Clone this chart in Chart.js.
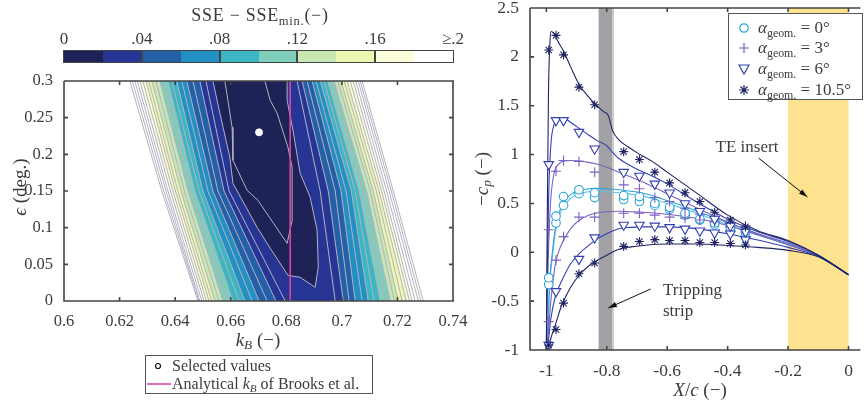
<!DOCTYPE html>
<html>
<head>
<meta charset="utf-8">
<script src="https://cdn.jsdelivr.net/npm/chart.js@4.4.1/dist/chart.umd.min.js"></script>
<style>
body{margin:0;background:#fff;width:865px;height:403px;overflow:hidden;position:relative;font-family:"Liberation Serif",serif;color:#3c3c3c}
canvas{position:absolute}
.t{position:absolute;white-space:nowrap;line-height:1}
.c{transform:translate(-50%,-50%)}
.r{transform:translate(-50%,-50%) rotate(-90deg)}
sub{font-size:70%;vertical-align:-0.3em;line-height:0}
#cbar{position:absolute;left:63px;top:50px;width:389px;height:11px;border:1.5px solid #444;display:flex}
#cbar div{flex:1}
.box{position:absolute;border:1.5px solid #555;background:#fff}
.row{position:absolute;left:0;right:0;height:20px;display:flex;align-items:center}
</style>
</head>
<body>
<canvas id="left" width="470" height="340" style="left:0;top:0"></canvas>
<canvas id="right" width="396" height="385" style="left:470px;top:0"></canvas>

<div class="t c" style="left:260px;top:15px;font-size:18px;letter-spacing:0.7px">SSE − SSE<sub>min.</sub>(−)</div>
<div id="cbar"></div>
<div class="t r" style="left:19px;top:187px;font-size:19px"><i>ϵ</i>&nbsp;(deg.)</div>
<div class="t c" style="left:258px;top:339px;font-size:19px"><i>k</i><sub><i>B</i></sub>&nbsp;(−)</div>

<div class="box" style="left:145px;top:355px;width:226px;height:37px;font-size:16px">
  <div class="row" style="top:0px"><svg width="26" height="12"><circle cx="12" cy="6" r="2.5" fill="#fff" stroke="#111" stroke-width="1.2"/></svg><span>Selected values</span></div>
  <div class="row" style="top:18px"><svg width="26" height="12"><line x1="1" y1="6" x2="25" y2="6" stroke="#d9479f" stroke-width="1.6"/></svg><span>Analytical <i>k</i><sub><i>B</i></sub> of Brooks et al.</span></div>
</div>

<div class="t r" style="left:481px;top:179px;font-size:19px">−<i>c</i><sub><i>p</i></sub>&nbsp;(−)</div>
<div class="t c" style="left:700px;top:389px;font-size:19px"><i>X</i>/<i>c</i>&nbsp;(−)</div>
<div class="t c" style="left:747px;top:146px;font-size:17px">TE insert</div>
<div class="t" style="left:663px;top:279px;font-size:17px;line-height:21px">Tripping<br>strip</div>

<div class="box" style="left:728px;top:13px;width:133px;height:85px;font-size:17px">
  <div class="row" style="top:4px"><svg width="29" height="14"><circle cx="15" cy="7" r="4.2" fill="#fff" stroke="#2aa4d8" stroke-width="1.2"/></svg><span><i>α</i><sub>geom.</sub> = 0°</span></div>
  <div class="row" style="top:24px"><svg width="29" height="14"><path d="M15 2V12M10 7H20" stroke="#7a60c0" stroke-width="1.2"/></svg><span><i>α</i><sub>geom.</sub> = 3°</span></div>
  <div class="row" style="top:45px"><svg width="29" height="14"><path d="M10 3H20L15 12Z" fill="#fff" stroke="#3340b2" stroke-width="1.2"/></svg><span><i>α</i><sub>geom.</sub> = 6°</span></div>
  <div class="row" style="top:66px"><svg width="29" height="14"><path d="M15 2V12M10 7H20M11.5 3.5L18.5 10.5M18.5 3.5L11.5 10.5" stroke="#1e2461" stroke-width="1.2"/></svg><span><i>α</i><sub>geom.</sub> = 10.5°</span></div>
</div>

<script>
// ---------- left panel: SSE map ----------
const bandColors = ['#1e2257', '#263594', '#2360a8', '#2390c3', '#3db6c4',
                    '#7fcdbb', '#c7e6b4', '#edf6b1', '#fbfcd9', '#ffffff'];
const cbarTicks = [0, 0.04, 0.08, 0.12, 0.16, 0.2];
const cbarLabels = ['0', '.04', '.08', '.12', '.16', '\u2265.2'];

const kbTicks = [0.6, 0.62, 0.64, 0.66, 0.68, 0.7, 0.72, 0.74];
const kbLabels = ['0.6', '0.62', '0.64', '0.66', '0.68', '0.7', '0.72', '0.74'];
const epsTicks = [0, 0.05, 0.1, 0.15, 0.2, 0.25, 0.3];
const epsLabels = ['0', '0.05', '0.1', '0.15', '0.2', '0.25', '0.3'];

// contour levels, each flank read at eps = 0.3, 0.15 and 0
const levels   = [0.03, 0.04, 0.05, 0.06, 0.07, 0.08, 0.09, 0.10, 0.11, 0.12,
                  0.13, 0.14, 0.15, 0.16, 0.17, 0.18, 0.19, 0.20, 0.21, 0.22];
const leftTop  = [0.6511, 0.6489, 0.6464, 0.6442, 0.6424, 0.6406, 0.6388, 0.6374, 0.6360, 0.6345,
                  0.6331, 0.6316, 0.6305, 0.6295, 0.6284, 0.6273, 0.6264, 0.6255, 0.6246, 0.6237];
const leftMid  = [0.6594, 0.6576, 0.6554, 0.6536, 0.6518, 0.6500, 0.6486, 0.6471, 0.6457, 0.6446,
                  0.6433, 0.6421, 0.6410, 0.6401, 0.6392, 0.6383, 0.6374, 0.6367, 0.6359, 0.6352];
const leftBot  = [0.6796, 0.6763, 0.6731, 0.6702, 0.6677, 0.6651, 0.6630, 0.6608, 0.6590, 0.6572,
                  0.6558, 0.6543, 0.6532, 0.6522, 0.6513, 0.6504, 0.6496, 0.6489, 0.6486, 0.6482];
const rightTop = [0.6839, 0.6857, 0.6875, 0.6893, 0.6907, 0.6922, 0.6936, 0.6949, 0.6961, 0.6972,
                  0.6985, 0.6997, 0.7008, 0.7019, 0.7030, 0.7041, 0.7050, 0.7059, 0.7066, 0.7073];
const rightMid = [0.6922, 0.6951, 0.6976, 0.6997, 0.7015, 0.7034, 0.7048, 0.7062, 0.7077, 0.7089,
                  0.7102, 0.7113, 0.7124, 0.7134, 0.7143, 0.7152, 0.7161, 0.7170, 0.7178, 0.7185];
const rightBot = [0.6976, 0.7005, 0.7026, 0.7048, 0.7073, 0.7095, 0.7116, 0.7138, 0.7156, 0.7174,
                  0.7189, 0.7203, 0.7217, 0.7232, 0.7243, 0.7253, 0.7264, 0.7275, 0.7284, 0.7293];

// the two innermost contours traced point by point
const lvl02K = [0.6536, 0.6561, 0.6597, 0.6608, 0.6695, 0.6731, 0.6806, 0.6850, 0.6904,
                0.6915, 0.6911, 0.6886, 0.6850, 0.6824, 0.6803, 0.6803];
const lvl02E = [0.300, 0.256, 0.196, 0.1605, 0.1005, 0.0786, 0.035, 0.0323, 0.0187,
                0.046, 0.0964, 0.1414, 0.1741, 0.2328, 0.2737, 0.300];
const lvl01K = [0.6579, 0.6605, 0.6608, 0.6659, 0.6698, 0.6803, 0.6821, 0.6821, 0.6806, 0.6767, 0.6742, 0.6723];
const lvl01E = [0.300, 0.2369, 0.1919, 0.151, 0.1373, 0.0786, 0.110, 0.1823, 0.2096, 0.256, 0.2737, 0.300];

const selected = [0.6702, 0.230];
const brooksKB = 0.6814;

// colour bar
const cbar = document.getElementById('cbar');
bandColors.forEach(c => {
    const d = document.createElement('div');
    d.style.background = c;
    cbar.appendChild(d);
});
cbarTicks.forEach((v, i) => {
    const px = 64 + v / 0.2 * 389;
    if (i > 0 && i < cbarTicks.length - 1) {
        const s = document.createElement('div');
        s.style.cssText = 'position:absolute;top:51px;height:12px;width:2px;background:#444;left:' + (px - 1) + 'px';
        document.body.appendChild(s);
    }
    const l = document.createElement('div');
    l.className = 't c';
    l.style.cssText = 'font-size:17px;top:38px;left:' + px + 'px';
    l.textContent = cbarLabels[i];
    document.body.appendChild(l);
});

function bandColor(lv) {
    return bandColors[Math.min(9, Math.floor((Math.round(lv * 100) - 1) / 2))];
}

const lineStyle = {showLine: true, fill: false, borderColor: '#b2b2c0', borderWidth: 1, pointRadius: 0};

const leftSets = [
    {data: [{x: selected[0], y: selected[1]}], pointRadius: 3.5, pointBackgroundColor: '#fff',
     pointBorderColor: '#fff', showLine: false},
    {data: [{x: brooksKB, y: 0}, {x: brooksKB, y: 0.3}], showLine: true, borderColor: '#d9479f',
     borderWidth: 1.6, pointRadius: 0, fill: false},
    Object.assign({data: lvl01K.map((k, i) => ({x: k, y: lvl01E[i]}))}, lineStyle),
    Object.assign({data: lvl02K.map((k, i) => ({x: k, y: lvl02E[i]}))}, lineStyle)
];
levels.forEach((lv, i) => {
    leftSets.push(Object.assign({data: [
        {x: leftTop[i], y: 0.3}, {x: leftMid[i], y: 0.15}, {x: leftBot[i], y: 0},
        {x: leftBot[i], y: null},
        {x: rightBot[i], y: 0}, {x: rightMid[i], y: 0.15}, {x: rightTop[i], y: 0.3}
    ]}, lineStyle));
});
// filled regions, inner first so that outer ones are painted underneath
leftSets.push({data: lvl02K.map((k, i) => ({x: k, y: lvl02E[i]})), showLine: true, fill: 'shape',
    backgroundColor: bandColor(0.02), borderColor: 'transparent', pointRadius: 0});
levels.forEach((lv, i) => {
    leftSets.push({data: [
        {x: leftTop[i], y: 0.3}, {x: leftMid[i], y: 0.15}, {x: leftBot[i], y: 0},
        {x: rightBot[i], y: 0}, {x: rightMid[i], y: 0.15}, {x: rightTop[i], y: 0.3}
    ], showLine: true, fill: 'shape', backgroundColor: bandColor(lv),
       borderColor: 'transparent', pointRadius: 0});
});

function framePlugin(sides, len, full) {
    return {
        id: 'frame',
        afterDatasetsDraw(chart) {
            const {ctx, chartArea: a, scales: {x, y}} = chart;
            ctx.save();
            ctx.strokeStyle = '#444';
            ctx.lineWidth = 1.6;
            ctx.beginPath();
            x.ticks.forEach(t => {
                const p = x.getPixelForValue(t.value);
                if (sides.includes('b')) { ctx.moveTo(p, a.bottom); ctx.lineTo(p, a.bottom - len); }
                if (sides.includes('t')) { ctx.moveTo(p, a.top); ctx.lineTo(p, a.top + len); }
            });
            y.ticks.forEach(t => {
                const p = y.getPixelForValue(t.value);
                if (sides.includes('l')) { ctx.moveTo(a.left, p); ctx.lineTo(a.left + len, p); }
                if (sides.includes('r')) { ctx.moveTo(a.right, p); ctx.lineTo(a.right - len, p); }
            });
            ctx.moveTo(a.left, a.top); ctx.lineTo(a.left, a.bottom); ctx.lineTo(a.right + 1, a.bottom);
            ctx.moveTo(a.left, a.top); ctx.lineTo(a.right + 1, a.top);
            if (full) { ctx.moveTo(a.right, a.top); ctx.lineTo(a.right, a.bottom); }
            ctx.stroke();
            ctx.restore();
        }
    };
}

function fixedTicks(values, labels, size) {
    return {
        afterBuildTicks: s => { s.ticks = values.map(v => ({value: v})); },
        ticks: {
            callback: (v, i) => labels[i],
            autoSkip: false, maxRotation: 0, minRotation: 0,
            color: '#3c3c3c',
            font: {family: 'Liberation Serif', size: size}
        },
        grid: {display: false},
        border: {display: false}
    };
}

new Chart(document.getElementById('left'), {
    type: 'scatter',
    data: {datasets: leftSets},
    options: {
        responsive: false,
        animation: false,
        events: [],
        layout: {padding: {top: 81, right: 17, left: 0, bottom: 0}},
        plugins: {legend: {display: false}, tooltip: {enabled: false}},
        scales: {
            x: Object.assign({type: 'linear', min: 0.6, max: 0.74,
                afterFit: s => { s.height = 39; s.paddingLeft = 0; s.paddingRight = 0; }},
                fixedTicks(kbTicks, kbLabels, 16.5)),
            y: Object.assign({type: 'linear', min: 0, max: 0.3,
                afterFit: s => { s.width = 64; s.paddingTop = 0; s.paddingBottom = 0; }},
                fixedTicks(epsTicks, epsLabels, 16.5))
        }
    },
    plugins: [framePlugin('btlr', 4, true)]
});

// ---------- right panel: pressure distributions ----------
const xTicksR = [-1, -0.8, -0.6, -0.4, -0.2, 0];
const xLabelsR = ['-1', '-0.8', '-0.6', '-0.4', '-0.2', '0'];
const yTicksR = [-1, -0.5, 0, 0.5, 1, 1.5, 2, 2.5];
const yLabelsR = ['-1', '-0.5', '0', '0.5', '1', '1.5', '2', '2.5'];

const tripStrip = [-0.827, -0.776];
const teInsert = [-0.2, 0];

// pressure taps (X/c)
const tapX = [-0.992, -0.968, -0.943, -0.892, -0.840, -0.744, -0.692, -0.641, -0.592,
              -0.541, -0.492, -0.443, -0.391, -0.341];
const cp0a  = [-0.26, 0.37, 0.57, 0.64, 0.61, 0.58, 0.57, 0.50, 0.46, 0.40, 0.34, 0.30, 0.26, 0.21];
const cp0b  = [-0.33, 0.30, 0.48, 0.60, 0.56, 0.54, 0.52, 0.48, 0.44, 0.38, 0.33, 0.28, 0.23, 0.16];
const cp3u  = [0.23, 0.83, 0.94, 0.93, 0.82, 0.69, 0.65, 0.56, 0.52, 0.45, 0.39, 0.32, 0.26, 0.20];
const cp3l  = [-0.71, -0.08, 0.16, 0.36, 0.36, 0.40, 0.40, 0.38, 0.36, 0.35, 0.33, 0.31, 0.30, 0.27];
const cp6u  = [0.90, 1.35, 1.35, 1.23, 1.06, 0.82, 0.78, 0.70, 0.61, 0.50, 0.42, 0.34, 0.27, 0.21];
const cp6l  = [-0.95, -0.40, null, -0.07, 0.15, 0.28, 0.28, 0.27, 0.255, 0.24, 0.22, 0.20, 0.19, 0.13];
const cp10u = [2.07, 2.22, 2.02, 1.69, 1.51, 1.03, 0.95, 0.82, 0.71, 0.61, 0.52, 0.41, 0.33, 0.26];
const cp10l = [-0.95, -0.79, -0.52, -0.22, -0.11, 0.06, 0.11, 0.13, 0.12, 0.12, 0.10, 0.10, 0.09, 0.075];

// computed distributions
const m0X  = [-1, -0.995, -0.988, -0.98, -0.97, -0.955, -0.94, -0.92, -0.89, -0.86, -0.83, -0.8,
              -0.76, -0.72, -0.68, -0.6, -0.5, -0.4, -0.3, -0.2, -0.1, 0];
const m0a  = [-1, -0.75, -0.25, 0.0, 0.25, 0.43, 0.52, 0.59, 0.63, 0.65, 0.655, 0.65,
              0.64, 0.625, 0.605, 0.53, 0.42, 0.30, 0.19, 0.085, -0.035, -0.23];
const m0b  = [-1, -0.78, -0.30, -0.05, 0.20, 0.39, 0.48, 0.55, 0.60, 0.62, 0.625, 0.62,
              0.61, 0.595, 0.575, 0.50, 0.40, 0.28, 0.175, 0.08, -0.035, -0.23];
const m3uX = [-1, -0.997, -0.992, -0.985, -0.975, -0.96, -0.94, -0.92, -0.89, -0.86, -0.83, -0.8,
              -0.76, -0.72, -0.68, -0.6, -0.5, -0.4, -0.3, -0.2, -0.1, 0];
const m3u  = [-1, -0.5, 0.1, 0.55, 0.8, 0.9, 0.935, 0.94, 0.935, 0.92, 0.90, 0.87,
              0.82, 0.77, 0.72, 0.60, 0.45, 0.31, 0.19, 0.095, -0.03, -0.23];
const mlX  = [-1, -0.993, -0.985, -0.97, -0.95, -0.92, -0.89, -0.86, -0.83, -0.8,
              -0.76, -0.72, -0.68, -0.6, -0.5, -0.4, -0.3, -0.2, -0.1, 0];
const m3l  = [-1, -0.8, -0.5, -0.12, 0.08, 0.24, 0.33, 0.38, 0.405, 0.415,
              0.42, 0.415, 0.41, 0.39, 0.345, 0.275, 0.18, 0.075, -0.035, -0.23];
const m6uX = [-1, -0.997, -0.992, -0.985, -0.975, -0.96, -0.94, -0.92, -0.892, -0.86, -0.83, -0.8,
              -0.78, -0.76, -0.73, -0.7, -0.65, -0.6, -0.5, -0.4, -0.3, -0.2, -0.1, 0];
const m6u  = [-1, -0.2, 0.6, 1.1, 1.3, 1.37, 1.37, 1.33, 1.27, 1.20, 1.14, 1.09,
              1.02, 0.96, 0.90, 0.85, 0.78, 0.70, 0.51, 0.34, 0.21, 0.11, -0.03, -0.23];
const m6l  = [-1, -0.9, -0.68, -0.45, -0.30, -0.12, -0.01, 0.07, 0.14, 0.19,
              0.24, 0.255, 0.26, 0.26, 0.24, 0.19, 0.125, 0.05, -0.04, -0.23];
const m10uX = [-1, -0.997, -0.993, -0.988, -0.984, -0.975, -0.96, -0.943, -0.92, -0.892, -0.86, -0.84,
               -0.81, -0.795, -0.78, -0.76, -0.73, -0.7, -0.65, -0.6, -0.5, -0.4, -0.3, -0.2, -0.1, 0];
const m10u = [-1, 0.3, 1.6, 2.15, 2.26, 2.24, 2.15, 2.06, 1.9, 1.72, 1.59, 1.52,
              1.44, 1.40, 1.24, 1.15, 1.08, 1.02, 0.93, 0.82, 0.60, 0.38, 0.22, 0.12, -0.03, -0.23];
const m10l = [-1, -0.97, -0.88, -0.74, -0.55, -0.36, -0.23, -0.14, -0.08, -0.03,
              0.03, 0.055, 0.07, 0.085, 0.085, 0.07, 0.05, 0.02, -0.045, -0.23];

const teArrow = [[-0.298, 0.965], [-0.136, 0.566]];
const tripArrow = [[-0.655, -0.376], [-0.795, -0.570]];

const col0 = '#2aa4d8', col0b = '#62c2e2', col3 = '#7a60c0', col6 = '#3340b2', col10 = '#1e2461';

function pts(xs, ys) {
    return xs.map((x, i) => ({x: x, y: ys[i]}));
}
function markers(ys, color, style, radius, rot) {
    return {data: pts(tapX, ys), showLine: false, pointStyle: style, pointRadius: radius,
            pointRotation: rot || 0, pointBorderColor: color, pointBackgroundColor: '#fff',
            pointBorderWidth: 1.1};
}
function curve(xs, ys, color) {
    return {data: pts(xs, ys), showLine: true, borderColor: color, borderWidth: 1.1,
            pointRadius: 0, fill: false, cubicInterpolationMode: 'monotone'};
}

const rightSets = [
    markers(cp10u, col10, 'star', 4.5), markers(cp10l, col10, 'star', 4.5),
    markers(cp6u, col6, 'triangle', 5.5, 180), markers(cp6l, col6, 'triangle', 5.5, 180),
    markers(cp3u, col3, 'cross', 5), markers(cp3l, col3, 'cross', 5),
    markers(cp0a, col0, 'circle', 4.3), markers(cp0b, col0, 'circle', 4.3),
    curve(m10uX, m10u, col10), curve(mlX, m10l, col10),
    curve(m6uX, m6u, col6), curve(mlX, m6l, col6),
    curve(m3uX, m3u, col3), curve(mlX, m3l, col3),
    curve(m0X, m0a, col0), curve(m0X, m0b, col0b)
];

const bandsPlugin = {
    id: 'bands',
    beforeDatasetsDraw(chart) {
        const {ctx, chartArea: a, scales: {x}} = chart;
        ctx.save();
        const t0 = x.getPixelForValue(tripStrip[0]), t1 = x.getPixelForValue(tripStrip[1]);
        ctx.fillStyle = '#a2a2a6';
        ctx.fillRect(t0, a.top, t1 - t0, a.bottom - a.top);
        ctx.fillStyle = '#cdcdd1';
        ctx.fillRect(t1 - 2, a.top, 2, a.bottom - a.top);
        const e0 = x.getPixelForValue(teInsert[0]), e1 = x.getPixelForValue(teInsert[1]);
        ctx.fillStyle = '#fde28f';
        ctx.fillRect(e0, a.top, e1 - e0, a.bottom - a.top);
        ctx.restore();
    }
};

const arrowPlugin = {
    id: 'arrows',
    afterDatasetsDraw(chart) {
        const {ctx, scales: {x, y}} = chart;
        [teArrow, tripArrow].forEach(ar => {
            const x0 = x.getPixelForValue(ar[0][0]), y0 = y.getPixelForValue(ar[0][1]);
            const x1 = x.getPixelForValue(ar[1][0]), y1 = y.getPixelForValue(ar[1][1]);
            const ang = Math.atan2(y1 - y0, x1 - x0);
            ctx.save();
            ctx.strokeStyle = '#111';
            ctx.fillStyle = '#111';
            ctx.lineWidth = 1;
            ctx.beginPath();
            ctx.moveTo(x0, y0);
            ctx.lineTo(x1, y1);
            ctx.stroke();
            ctx.beginPath();
            ctx.moveTo(x1, y1);
            ctx.lineTo(x1 - 9 * Math.cos(ang - 0.3), y1 - 9 * Math.sin(ang - 0.3));
            ctx.lineTo(x1 - 9 * Math.cos(ang + 0.3), y1 - 9 * Math.sin(ang + 0.3));
            ctx.closePath();
            ctx.fill();
            ctx.restore();
        });
    }
};

new Chart(document.getElementById('right'), {
    type: 'scatter',
    data: {datasets: rightSets},
    options: {
        responsive: false,
        animation: false,
        events: [],
        layout: {padding: {top: 8, right: 0, left: 0, bottom: 0}},
        plugins: {legend: {display: false}, tooltip: {enabled: false}},
        scales: {
            x: Object.assign({type: 'linear', min: -1.054, max: 0.036,
                afterFit: s => { s.height = 35; s.paddingLeft = 0; s.paddingRight = 0; }},
                fixedTicks(xTicksR, xLabelsR, 17.5)),
            y: Object.assign({type: 'linear', min: -1, max: 2.5,
                afterFit: s => { s.width = 60; s.paddingTop = 0; s.paddingBottom = 0; }},
                fixedTicks(yTicksR, yLabelsR, 17.5))
        }
    },
    plugins: [bandsPlugin, arrowPlugin, framePlugin('btl', 4, false)]
});
</script>
</body>
</html>
